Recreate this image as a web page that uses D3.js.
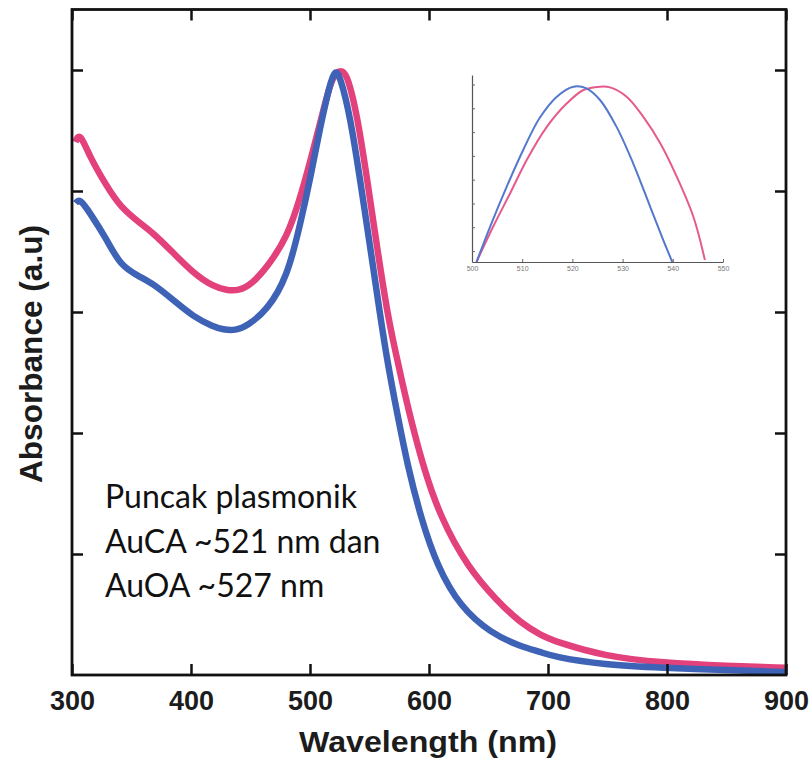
<!DOCTYPE html>
<html>
<head>
<meta charset="utf-8">
<script src="https://cdn.jsdelivr.net/npm/d3@7/dist/d3.min.js"></script>
<style>
  body { margin: 0; background: #fff; }
  svg { display: block; }
</style>
</head>
<body>
<svg width="810" height="761"></svg>
<script>
// main spectra (normalised absorbance)
const auOaWavelength = [303, 306.5, 315, 329.5, 340.5, 357, 368, 385, 402, 418.5, 430, 440, 451, 464, 481, 492, 500.5, 508.5, 517, 522, 527, 532, 540, 548.5, 556.5, 565, 571, 577, 584.5, 595.5, 609.5, 632.5, 657.5, 677, 694, 705, 747, 797, 850, 900];
const auOaAbsorbance = [0.881, 0.898, 0.856, 0.807, 0.774, 0.747, 0.731, 0.698, 0.664, 0.642, 0.636, 0.635, 0.646, 0.674, 0.724, 0.790, 0.851, 0.912, 0.979, 0.996, 1.000, 0.988, 0.922, 0.813, 0.705, 0.598, 0.542, 0.488, 0.424, 0.342, 0.261, 0.178, 0.122, 0.086, 0.066, 0.056, 0.031, 0.020, 0.015, 0.012];

const auCaWavelength = [303, 306.5, 315, 329.5, 340.5, 357, 368, 385, 402, 418.5, 427, 437, 448, 464, 481, 492, 500.5, 508.5, 517, 521, 525, 534, 542.5, 551, 559, 565, 573.5, 582, 593, 607, 626.5, 652, 677, 694, 705, 747, 797, 850, 900];
const auCaAbsorbance = [0.780, 0.788, 0.764, 0.719, 0.677, 0.658, 0.647, 0.620, 0.592, 0.576, 0.571, 0.569, 0.578, 0.603, 0.658, 0.747, 0.823, 0.906, 0.979, 1.000, 0.992, 0.922, 0.813, 0.702, 0.594, 0.518, 0.430, 0.346, 0.261, 0.179, 0.112, 0.069, 0.047, 0.038, 0.030, 0.017, 0.012, 0.008, 0.005];

// inset (zoom on the peak), values in inset tick units
const insetAuCaWavelength = [500.9, 503.6, 506.9, 510.2, 513.5, 516.9, 520.2, 522.8, 525.5, 528.8, 532.1, 535.5, 538.1, 539.9];
const insetAuCaValue = [-0.46, 1.02, 2.70, 4.25, 5.60, 6.49, 6.91, 6.84, 6.35, 5.22, 3.69, 1.86, 0.46, -0.46];
const insetAuOaWavelength = [500.9, 504.2, 507.6, 510.9, 514.9, 518.9, 522.2, 525.5, 527.5, 530.8, 534.1, 537.5, 540.8, 544.1, 546.4];
const insetAuOaValue = [-0.46, 1.02, 2.43, 3.83, 5.22, 6.21, 6.77, 6.91, 6.88, 6.49, 5.65, 4.53, 3.12, 1.44, -0.38];

const xTicks = [300, 400, 500, 600, 700, 800, 900];
const yTicks = [0.2, 0.4, 0.6, 0.8, 1.0];
const insetXTicks = [500, 510, 520, 530, 540, 550];
const insetYTicks = [0, 1, 2, 3, 4, 5, 6, 7];

const noteLines = ['Puncak plasmonik', 'AuCA ~521 nm dan', 'AuOA ~527 nm'];

const colors = {
    auOa: '#e3417b',
    auCa: '#3e62b6',
    insetAuOa: '#e65a8d',
    insetAuCa: '#5478cc'
};

const svg = d3.select('svg');
const plot = { left: 72, right: 786, top: 9.5, bottom: 675 };

const x = d3.scaleLinear().domain([300, 900]).range([plot.left, plot.right]);
const y = d3.scaleLinear().domain([0, 1.1]).range([plot.bottom, plot.top]);

function zip(xs, ys) { return xs.map((d, i) => [d, ys[i]]); }

// spectra first, frame on top
const line = d3.line().x(d => x(d[0])).y(d => y(d[1])).curve(d3.curveBasis);
svg.append('path')
    .datum(zip(auOaWavelength, auOaAbsorbance))
    .attr('d', line)
    .attr('fill', 'none')
    .attr('stroke', colors.auOa)
    .attr('stroke-width', 6.5)
    .attr('stroke-linejoin', 'round');
svg.append('path')
    .datum(zip(auCaWavelength, auCaAbsorbance))
    .attr('d', line)
    .attr('fill', 'none')
    .attr('stroke', colors.auCa)
    .attr('stroke-width', 6.5)
    .attr('stroke-linejoin', 'round');

// axes: ticks point inward, mirrored on top and right
const tickFont = '"Liberation Sans", Arial, sans-serif';
const bottomAxis = svg.append('g')
    .attr('transform', `translate(0,${plot.bottom})`)
    .call(d3.axisBottom(x).tickValues(xTicks).tickSize(-11).tickPadding(16));
bottomAxis.selectAll('text')
    .attr('font-family', tickFont)
    .attr('font-weight', 'bold')
    .attr('font-size', 27)
    .attr('fill', '#1c1c1c');

svg.append('g')
    .attr('transform', `translate(0,${plot.top})`)
    .call(d3.axisTop(x).tickValues(xTicks).tickSize(-11).tickFormat(''));
svg.append('g')
    .attr('transform', `translate(${plot.left},0)`)
    .call(d3.axisLeft(y).tickValues(yTicks).tickSize(-11).tickFormat(''));
svg.append('g')
    .attr('transform', `translate(${plot.right},0)`)
    .call(d3.axisRight(y).tickValues(yTicks).tickSize(-11).tickFormat(''));

svg.selectAll('.domain').remove();
svg.selectAll('.tick line').attr('stroke', '#111').attr('stroke-width', 2.5);

svg.append('rect')
    .attr('x', plot.left)
    .attr('y', plot.top)
    .attr('width', plot.right - plot.left)
    .attr('height', plot.bottom - plot.top)
    .attr('fill', 'none')
    .attr('stroke', '#111')
    .attr('stroke-width', 2.8);

// axis titles
svg.append('text')
    .attr('x', (plot.left + plot.right) / 2 - 1)
    .attr('y', 752)
    .attr('text-anchor', 'middle')
    .attr('font-family', tickFont)
    .attr('font-weight', 'bold')
    .attr('font-size', 30)
    .attr('fill', '#1c1c1c')
    .attr('textLength', 258)
    .attr('lengthAdjust', 'spacingAndGlyphs')
    .text('Wavelength (nm)');
svg.append('text')
    .attr('transform', 'translate(42,354) rotate(-90)')
    .attr('text-anchor', 'middle')
    .attr('font-family', tickFont)
    .attr('font-weight', 'bold')
    .attr('font-size', 32)
    .attr('fill', '#1c1c1c')
    .attr('textLength', 258)
    .attr('lengthAdjust', 'spacingAndGlyphs')
    .text('Absorbance (a.u)');

// annotation
svg.append('g').selectAll('text')
    .data(noteLines)
    .join('text')
    .attr('x', 105)
    .attr('y', (d, i) => 508 + i * 44.5)
    .attr('font-family', 'Lato, "Open Sans", sans-serif')
    .attr('font-size', 32)
    .attr('fill', '#111')
    .text(d => d);

// inset
const inset = { left: 472, right: 723, top: 75, bottom: 262 };
const ix = d3.scaleLinear().domain([500, 550]).range([inset.left, inset.right]);
const iy = d3.scaleLinear().domain([-0.46, 7.4]).range([inset.bottom, inset.top]);

const insetG = svg.append('g');
const insetLine = d3.line().x(d => ix(d[0])).y(d => iy(d[1])).curve(d3.curveCatmullRom);
insetG.append('path')
    .datum(zip(insetAuOaWavelength, insetAuOaValue))
    .attr('d', insetLine)
    .attr('fill', 'none')
    .attr('stroke', colors.insetAuOa)
    .attr('stroke-width', 2);
insetG.append('path')
    .datum(zip(insetAuCaWavelength, insetAuCaValue))
    .attr('d', insetLine)
    .attr('fill', 'none')
    .attr('stroke', colors.insetAuCa)
    .attr('stroke-width', 2);

const insetX = insetG.append('g')
    .attr('transform', `translate(0,${inset.bottom})`)
    .call(d3.axisBottom(ix).tickValues(insetXTicks).tickSize(-3).tickSizeOuter(0).tickPadding(4));
insetX.selectAll('text')
    .attr('font-family', tickFont)
    .attr('font-size', 7)
    .attr('fill', '#777');
const insetY = insetG.append('g')
    .attr('transform', `translate(${inset.left},0)`)
    .call(d3.axisLeft(iy).tickValues(insetYTicks).tickSize(-3).tickSizeOuter(0).tickFormat(''));
insetG.selectAll('.domain').attr('stroke', '#555').attr('stroke-width', 1.2);
insetG.selectAll('.tick line').attr('stroke', '#666').attr('stroke-width', 1);
</script>
</body>
</html>
